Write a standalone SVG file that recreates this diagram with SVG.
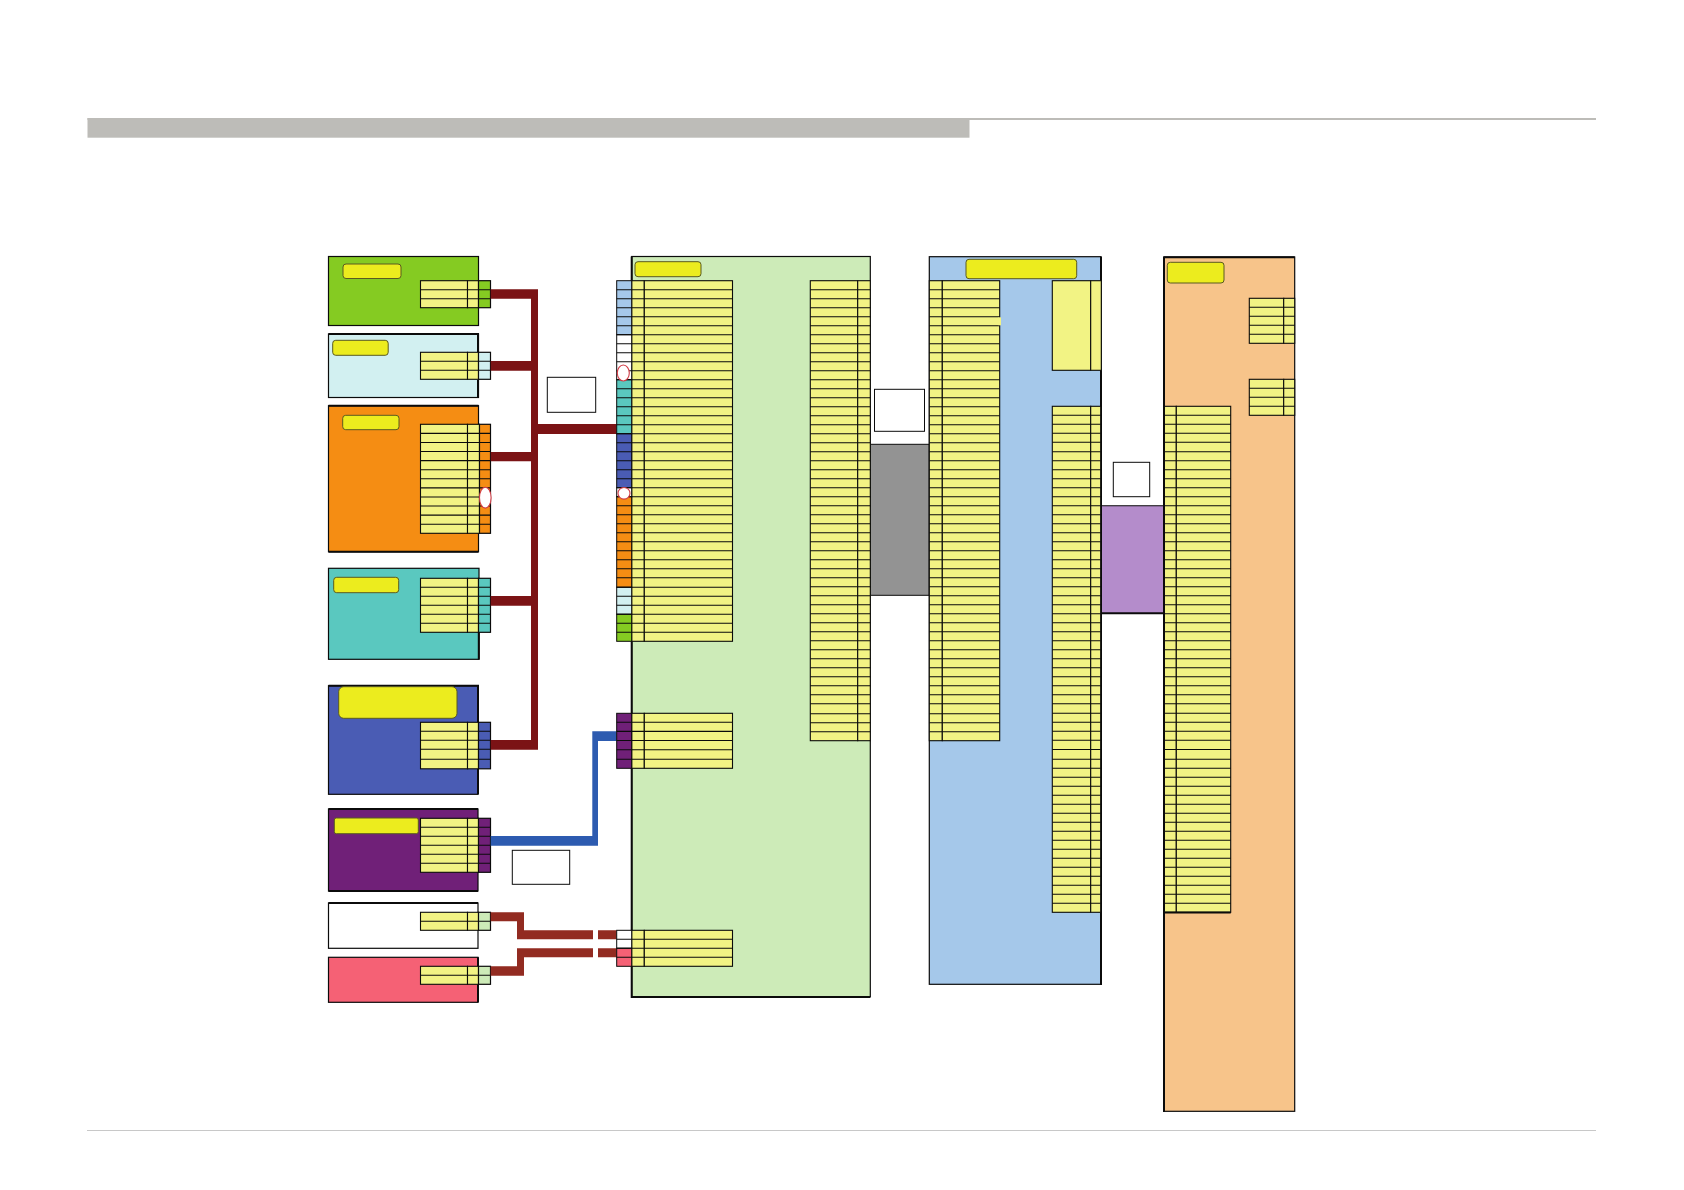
<svg xmlns="http://www.w3.org/2000/svg" width="1684" height="1190" viewBox="0 0 1684 1190">
<style>
.b{stroke:#0b0b0b;stroke-width:1.2}
.y{fill:#f2f384;stroke:#0b0b0b;stroke-width:1.1}
.l{stroke:#0b0b0b;stroke-width:1.1;fill:none}
.p{fill:#ecec1e;stroke:#5a5a20;stroke-width:1}
.o{fill:#fff;stroke:#d23c46;stroke-width:1.1}
.w{fill:#fff;stroke:#0b0b0b;stroke-width:1}
.t{stroke:#0b0b0b;stroke-width:2;fill:none}
</style>
<rect width="1684" height="1190" fill="#fff"/>
<g id="header"><rect x="87.500" y="118" width="882" height="19.700" fill="#bdbcb8"/><rect x="87.500" y="118" width="1508.500" height="2" fill="#bdbcb8"/><rect x="87" y="1130" width="1509" height="1" fill="#c8c8c8"/></g>
<g id="node-green"><rect class="b" x="328.500" y="256.500" width="150" height="69" fill="#85cb22"/><rect class="p" x="343" y="264" width="58" height="14.500" rx="3"/><rect class="y" x="420.500" y="280.700" width="47" height="27"/><rect class="y" x="467.500" y="280.700" width="11" height="27"/><rect class="b" x="478.500" y="280.700" width="12" height="27" fill="#85cb22"/><path class="l" d="M420.500 289.700H490.500M420.500 298.700H490.500"/></g>
<g id="node-cyan"><rect class="b" x="328.500" y="334" width="150" height="63.500" fill="#d2f0f1"/><path class="t" d="M328.500 334H478V352M478 380V397.500"/><rect class="p" x="332.700" y="340.300" width="55.500" height="15" rx="3"/><rect class="y" x="420.500" y="352.300" width="47" height="27"/><rect class="y" x="467.500" y="352.300" width="11" height="27"/><rect class="b" x="478.500" y="352.300" width="12" height="27" fill="#d2f0f1"/><path class="l" d="M420.500 361.300H490.500M420.500 370.300H490.500"/></g>
<g id="node-orange"><rect class="b" x="328.500" y="405.700" width="150" height="146" fill="#f58d13"/><path class="t" d="M328.500 405.700H478.500M328.500 551.700H478.500"/><rect class="p" x="342.700" y="415.300" width="56.300" height="14.400" rx="3"/><rect class="y" x="420.500" y="424.300" width="47" height="109"/><rect class="y" x="467.500" y="424.300" width="12" height="109"/><rect class="b" x="479.500" y="424.300" width="11" height="109" fill="#f58d13"/><path class="l" d="M420.500 433.400H490.500M420.500 442.500H490.500M420.500 451.500H490.500M420.500 460.600H490.500M420.500 469.700H490.500M420.500 478.800H490.500M420.500 487.900H490.500M420.500 497H490.500M420.500 506H490.500M420.500 515.100H490.500M420.500 524.200H490.500"/><ellipse class="o" cx="485.300" cy="497.700" rx="5.800" ry="10.400"/></g>
<g id="node-teal"><rect class="b" x="328.500" y="568.300" width="150.500" height="91" fill="#5ac8bf"/><path class="t" d="M478.800 632V659.500"/><rect class="p" x="333.700" y="577.300" width="65" height="15.400" rx="3"/><rect class="y" x="420.500" y="578.300" width="47" height="54"/><rect class="y" x="467.500" y="578.300" width="11" height="54"/><rect class="b" x="478.500" y="578.300" width="12" height="54" fill="#5ac8bf"/><path class="l" d="M420.500 587.300H490.500M420.500 596.300H490.500M420.500 605.300H490.500M420.500 614.300H490.500M420.500 623.300H490.500"/></g>
<g id="node-blue"><rect class="b" x="328.500" y="685.700" width="149.500" height="108.600" fill="#4a5cb4"/><path class="t" d="M328.500 685.700H478V722M478 769V794.300"/><rect class="p" x="338.700" y="686.700" width="118.300" height="31.600" rx="5"/><rect class="y" x="420.500" y="722.300" width="47" height="46.500"/><rect class="y" x="467.500" y="722.300" width="11" height="46.500"/><rect class="b" x="478.500" y="722.300" width="12" height="46.500" fill="#4a5cb4"/><path class="l" d="M420.500 731.300H490.500M420.500 740.300H490.500M420.500 749.300H490.500M420.500 759.300H490.500"/></g>
<g id="node-purple"><rect class="b" x="328.500" y="809" width="149.500" height="82" fill="#702078"/><path class="t" d="M328.500 809H478M328.500 891H478"/><rect class="p" x="334.300" y="818" width="84" height="15.700" rx="2"/><rect class="y" x="420.500" y="818.300" width="47" height="54"/><rect class="y" x="467.500" y="818.300" width="11" height="54"/><rect class="b" x="478.500" y="818.300" width="12" height="54" fill="#702078"/><path class="l" d="M420.500 827.300H490.500M420.500 836.300H490.500M420.500 845.300H490.500M420.500 854.300H490.500M420.500 863.300H490.500"/></g>
<g id="node-white"><rect class="b" x="328.500" y="903" width="149.500" height="45.300" fill="#fff"/><path class="t" d="M328.500 903H478"/><rect class="y" x="420.500" y="912.300" width="47" height="18"/><rect class="y" x="467.500" y="912.300" width="11" height="18"/><rect class="b" x="478.500" y="912.300" width="12" height="18" fill="#cdebb8"/><path class="l" d="M420.500 921.300H490.500"/></g>
<g id="node-pink"><rect class="b" x="328.500" y="957.300" width="149.500" height="45" fill="#f56175"/><path class="t" d="M478 957.300V966M478 985V1002.300"/><rect class="y" x="420.500" y="966.300" width="47" height="18"/><rect class="y" x="467.500" y="966.300" width="11" height="18"/><rect class="b" x="478.500" y="966.300" width="12" height="18" fill="#cdebb8"/><path class="l" d="M420.500 975.300H490.500"/></g>
<g id="connectors">
<path fill="#7b1315" d="M490.700 289.300H538V424H616.700V434H538V749.700H490.700V740H531V605.700H490.700V596H531V461.300H490.700V452H531V370.700H490.700V361H531V298.700H490.700Z"/>
<path fill="#2d5bb0" d="M490.700 836H592.300V731.300H616.700V741H598V845.700H490.700Z"/>
<path fill="#922b21" d="M490.700 912.300H524V930.300H593V939.300H517V921.300H490.700ZM598 930.300H616.700V939.300H598ZM490.700 966.300H517V948.300H593V957.300H524V975.700H490.700ZM598 948.300H616.700V957.300H598Z"/>
<rect x="870.300" y="444.300" width="59" height="151" fill="#939393" stroke="#0b0b0b" stroke-width="1"/>
<rect x="1101" y="505.700" width="63" height="107.600" fill="#b48ccb"/><path class="l" d="M1101 505.700H1164"/><path class="t" d="M1101 613.300H1164"/>
</g>
<g id="label-boxes"><rect class="w" x="547.300" y="377.300" width="48.400" height="35"/><rect class="w" x="512.300" y="850.300" width="57.400" height="34"/><rect class="w" x="874.500" y="389.300" width="50" height="42"/><rect class="w" x="1113.300" y="462.300" width="36.400" height="34.400"/></g>
<g id="node-main"><rect class="b" x="631.700" y="256.500" width="238.600" height="740.200" fill="#cdebb8"/><path class="t" d="M631.700 256.500V997H870.300"/><rect class="p" x="635" y="261.700" width="66" height="15" rx="3"/>
<rect class="y" x="631.700" y="280.700" width="12.600" height="360.600"/><rect class="y" x="644.300" y="280.700" width="88.200" height="360.600"/>
<g stroke="#0b0b0b" stroke-width="1">
<rect x="616.700" y="280.700" width="15" height="54" fill="#a5c8ea"/><rect x="616.700" y="334.700" width="15" height="45" fill="#fff"/><rect x="616.700" y="379.700" width="15" height="54" fill="#5ac8bf"/><rect x="616.700" y="433.700" width="15" height="54" fill="#4a5cb4"/><rect x="616.700" y="487.700" width="15" height="9" fill="#fff"/><rect x="616.700" y="496.700" width="15" height="90.600" fill="#f58d13"/><rect x="616.700" y="587.300" width="15" height="27" fill="#d2f0f1"/><rect x="616.700" y="614.300" width="15" height="27" fill="#85cb22"/>
</g>
<path class="l" d="M616.700 289.700H732.500M616.700 298.700H732.500M616.700 307.700H732.500M616.700 316.700H732.500M616.700 325.700H732.500M616.700 334.700H732.500M616.700 343.700H732.500M616.700 352.700H732.500M616.700 361.700H732.500M616.700 370.700H732.500M616.700 379.700H732.500M616.700 388.700H732.500M616.700 397.700H732.500M616.700 406.700H732.500M616.700 415.700H732.500M616.700 424.700H732.500M616.700 433.700H732.500M616.700 442.700H732.500M616.700 451.700H732.500M616.700 460.700H732.500M616.700 469.700H732.500M616.700 478.700H732.500M616.700 487.700H732.500M616.700 496.700H732.500M616.700 505.700H732.500M616.700 514.800H732.500M616.700 523.800H732.500M616.700 532.800H732.500M616.700 541.800H732.500M616.700 550.800H732.500M616.700 559.800H732.500M616.700 568.800H732.500M616.700 577.800H732.500M616.700 587.300H732.500M616.700 596.300H732.500M616.700 605.300H732.500M616.700 614.300H732.500M616.700 623.300H732.500M616.700 632.300H732.500"/>
<ellipse class="o" cx="623.300" cy="373" rx="6" ry="8"/><ellipse class="o" cx="624" cy="493.300" rx="6" ry="5.800"/>
<rect class="y" x="631.700" y="713.300" width="12.600" height="55"/><rect class="y" x="644.300" y="713.300" width="88.200" height="55"/><rect x="616.700" y="713.300" width="15" height="55" fill="#702078" stroke="#0b0b0b"/><path class="l" d="M616.700 722.300H732.500M616.700 731.400H732.500M616.700 740.500H732.500M616.700 749.700H732.500M616.700 759.300H732.500"/>
<rect class="y" x="631.700" y="930.300" width="12.600" height="36"/><rect class="y" x="644.300" y="930.300" width="88.200" height="36"/><rect x="616.700" y="930.300" width="15" height="18" fill="#fff" stroke="#0b0b0b"/><rect x="616.700" y="948.300" width="15" height="18" fill="#f56175" stroke="#0b0b0b"/><path class="l" d="M616.700 939.300H732.500M616.700 948.300H732.500M616.700 957.300H732.500"/>
<rect class="y" x="810.300" y="280.700" width="47.400" height="460"/><rect class="y" x="857.700" y="280.700" width="12.600" height="460"/>
<path class="l" d="M810.300 289.700H870.300M810.300 298.700H870.300M810.300 307.700H870.300M810.300 316.700H870.300M810.300 325.700H870.300M810.300 334.700H870.300M810.300 343.700H870.300M810.300 352.700H870.300M810.300 361.700H870.300M810.300 370.700H870.300M810.300 379.700H870.300M810.300 388.700H870.300M810.300 397.700H870.300M810.300 406.700H870.300M810.300 415.700H870.300M810.300 424.700H870.300M810.300 433.700H870.300M810.300 442.700H870.300M810.300 451.700H870.300M810.300 460.700H870.300M810.300 469.700H870.300M810.300 478.700H870.300M810.300 487.700H870.300M810.300 496.700H870.300M810.300 505.700H870.300M810.300 514.800H870.300M810.300 523.800H870.300M810.300 532.800H870.300M810.300 541.800H870.300M810.300 550.800H870.300M810.300 559.800H870.300M810.300 568.800H870.300M810.300 577.800H870.300M810.300 586.800H870.300M810.300 595.800H870.300M810.300 604.800H870.300M810.300 613.800H870.300M810.300 622.800H870.300M810.300 631.800H870.300M810.300 640.800H870.300M810.300 649.800H870.300M810.300 658.800H870.300M810.300 667.800H870.300M810.300 676.800H870.300M810.300 685.800H870.300M810.300 694.800H870.300M810.300 703.800H870.300M810.300 713.700H870.300M810.300 722.700H870.300M810.300 731.700H870.300"/>
</g>
<g id="node-blue-panel"><rect class="b" x="929.300" y="256.700" width="171.700" height="727.600" fill="#a5c8ea"/><path class="t" d="M1101 256.700V985"/><rect class="p" x="966" y="259.300" width="110.700" height="19.400" rx="3"/>
<rect class="y" x="929.300" y="280.700" width="13" height="460"/><rect class="y" x="942.300" y="280.700" width="57.400" height="460"/>
<path class="l" d="M929.300 289.700H999.700M929.300 298.700H999.700M929.300 307.700H999.700M929.300 316.700H999.700M929.300 325.700H999.700M929.300 334.700H999.700M929.300 343.700H999.700M929.300 352.700H999.700M929.300 361.700H999.700M929.300 370.700H999.700M929.300 379.700H999.700M929.300 388.700H999.700M929.300 397.700H999.700M929.300 406.700H999.700M929.300 415.700H999.700M929.300 424.700H999.700M929.300 433.700H999.700M929.300 442.700H999.700M929.300 451.700H999.700M929.300 460.700H999.700M929.300 469.700H999.700M929.300 478.700H999.700M929.300 487.700H999.700M929.300 496.700H999.700M929.300 505.700H999.700M929.300 514.800H999.700M929.300 523.800H999.700M929.300 532.800H999.700M929.300 541.800H999.700M929.300 550.800H999.700M929.300 559.800H999.700M929.300 568.800H999.700M929.300 577.800H999.700M929.300 586.800H999.700M929.300 595.800H999.700M929.300 604.800H999.700M929.300 613.800H999.700M929.300 622.800H999.700M929.300 631.800H999.700M929.300 640.800H999.700M929.300 649.800H999.700M929.300 658.800H999.700M929.300 667.800H999.700M929.300 676.800H999.700M929.300 685.800H999.700M929.300 694.800H999.700M929.300 703.800H999.700M929.300 713.700H999.700M929.300 722.700H999.700M929.300 731.700H999.700"/>
<rect x="998.500" y="317.300" width="2.500" height="8" fill="#f2f384"/>
<rect class="y" x="1052.300" y="280.700" width="38.400" height="89.600"/><rect class="y" x="1090.700" y="280.700" width="10.600" height="89.600"/>
<rect class="y" x="1052.300" y="406.300" width="38.400" height="506"/><rect class="y" x="1090.700" y="406.300" width="10" height="506"/>
<path class="l" d="M1052.300 415.300H1100.700M1052.300 424.300H1100.700M1052.300 433.300H1100.700M1052.300 442.300H1100.700M1052.300 451.700H1100.700M1052.300 460.700H1100.700M1052.300 469.700H1100.700M1052.300 478.700H1100.700M1052.300 487.700H1100.700M1052.300 496.700H1100.700M1052.300 505.700H1100.700M1052.300 514.700H1100.700M1052.300 523.700H1100.700M1052.300 532.700H1100.700M1052.300 541.700H1100.700M1052.300 550.700H1100.700M1052.300 559.700H1100.700M1052.300 568.700H1100.700M1052.300 577.700H1100.700M1052.300 586.700H1100.700M1052.300 595.700H1100.700M1052.300 604.700H1100.700M1052.300 613.700H1100.700M1052.300 622.700H1100.700M1052.300 631.700H1100.700M1052.300 640.700H1100.700M1052.300 649.700H1100.700M1052.300 658.700H1100.700M1052.300 667.700H1100.700M1052.300 676.700H1100.700M1052.300 685.700H1100.700M1052.300 694.700H1100.700M1052.300 703.700H1100.700M1052.300 713.300H1100.700M1052.300 722.300H1100.700M1052.300 731.300H1100.700M1052.300 740.300H1100.700M1052.300 749.500H1100.700M1052.300 759.300H1100.700M1052.300 768.300H1100.700M1052.300 777.300H1100.700M1052.300 786.300H1100.700M1052.300 795.300H1100.700M1052.300 804.300H1100.700M1052.300 813.300H1100.700M1052.300 822.300H1100.700M1052.300 831.300H1100.700M1052.300 840.300H1100.700M1052.300 849.300H1100.700M1052.300 858.300H1100.700M1052.300 867.300H1100.700M1052.300 876.300H1100.700M1052.300 885.300H1100.700M1052.300 894.300H1100.700M1052.300 903.300H1100.700"/></g>
<g id="node-peach"><rect class="b" x="1164" y="257" width="130.700" height="854.300" fill="#f7c48a"/><rect class="p" x="1167.300" y="262.300" width="56.700" height="20.700" rx="3"/>
<rect class="y" x="1249.300" y="298.300" width="34.400" height="45"/><rect class="y" x="1283.700" y="298.300" width="11" height="45"/><path class="l" d="M1249.300 307.300H1294.700M1249.300 316.300H1294.700M1249.300 325.300H1294.700M1249.300 334.300H1294.700"/>
<rect class="y" x="1249.300" y="379.300" width="34.400" height="36"/><rect class="y" x="1283.700" y="379.300" width="11" height="36"/><path class="l" d="M1249.300 388.300H1294.700M1249.300 397.300H1294.700M1249.300 406.300H1294.700"/>
<rect class="y" x="1164" y="406.300" width="12.300" height="506"/><rect class="y" x="1176.300" y="406.300" width="54.400" height="506"/>
<path class="l" d="M1164 415.300H1230.700M1164 424.300H1230.700M1164 433.300H1230.700M1164 442.300H1230.700M1164 451.700H1230.700M1164 460.700H1230.700M1164 469.700H1230.700M1164 478.700H1230.700M1164 487.700H1230.700M1164 496.700H1230.700M1164 505.700H1230.700M1164 514.700H1230.700M1164 523.700H1230.700M1164 532.700H1230.700M1164 541.700H1230.700M1164 550.700H1230.700M1164 559.700H1230.700M1164 568.700H1230.700M1164 577.700H1230.700M1164 586.700H1230.700M1164 595.700H1230.700M1164 604.700H1230.700M1164 613.700H1230.700M1164 622.700H1230.700M1164 631.700H1230.700M1164 640.700H1230.700M1164 649.700H1230.700M1164 658.700H1230.700M1164 667.700H1230.700M1164 676.700H1230.700M1164 685.700H1230.700M1164 694.700H1230.700M1164 703.700H1230.700M1164 713.300H1230.700M1164 722.300H1230.700M1164 731.300H1230.700M1164 740.300H1230.700M1164 749.500H1230.700M1164 759.300H1230.700M1164 768.300H1230.700M1164 777.300H1230.700M1164 786.300H1230.700M1164 795.300H1230.700M1164 804.300H1230.700M1164 813.300H1230.700M1164 822.300H1230.700M1164 831.300H1230.700M1164 840.300H1230.700M1164 849.300H1230.700M1164 858.300H1230.700M1164 867.300H1230.700M1164 876.300H1230.700M1164 885.300H1230.700M1164 894.300H1230.700M1164 903.300H1230.700"/>
<path class="t" d="M1164 257.300H1294.700M1164 256.500V1112M1164 912.500H1230.700"/></g>
</svg>
